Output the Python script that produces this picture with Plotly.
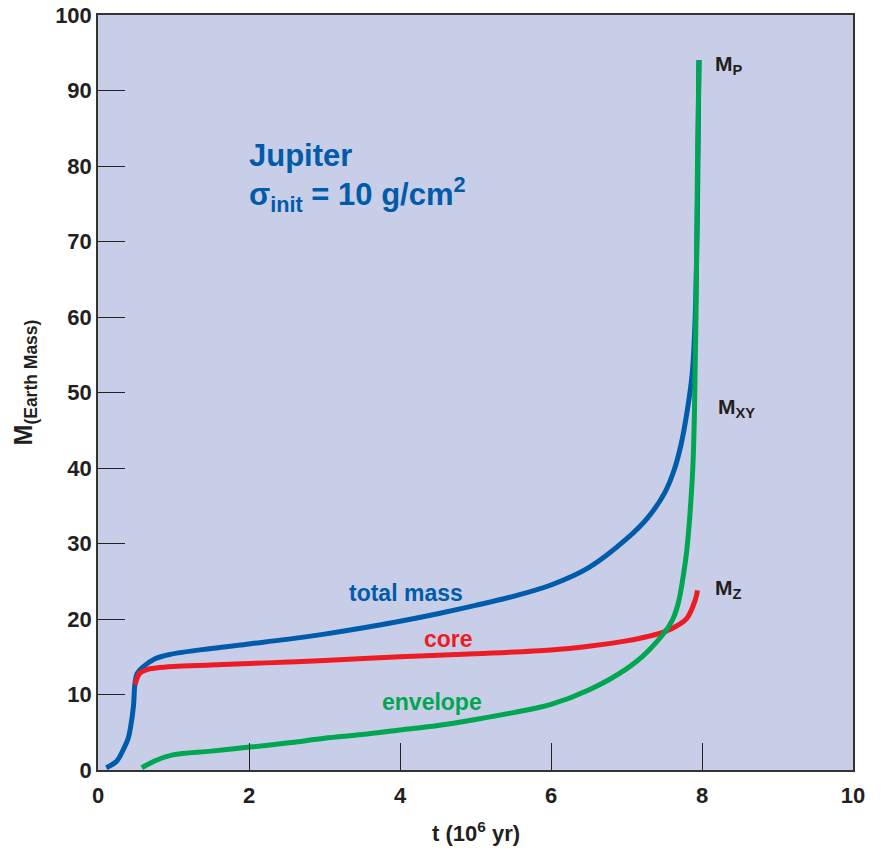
import plotly.graph_objects as go

# ---- data ----
t_total = [0.11, 0.25, 0.33, 0.40, 0.44, 0.47, 0.49, 0.52, 0.59, 0.75, 0.95, 1.5, 2.0, 2.5,
           3.0, 3.5, 4.0, 4.5, 5.0, 5.5, 6.0, 6.5, 7.0, 7.28, 7.5, 7.63, 7.72, 7.80, 7.87,
           7.91, 7.94, 7.96]
m_total = [0.3, 1.2, 2.6, 4.2, 6.2, 8.5, 11.5, 12.8, 13.6, 14.7, 15.3, 16.1, 16.7, 17.3,
           18.0, 18.8, 19.7, 20.7, 21.8, 23.0, 24.5, 26.8, 30.6, 33.4, 36.6, 39.7, 43.0, 47.3,
           52.5, 60.0, 75.0, 94.0]

t_core = [0.49, 0.52, 0.55, 0.65, 0.77, 1.0, 1.5, 2.0, 2.53, 3.0, 4.0, 5.0, 6.0, 6.5, 7.0,
          7.5, 7.7, 7.8, 7.91, 7.94]
m_core = [11.3, 12.2, 12.8, 13.3, 13.5, 13.7, 13.9, 14.1, 14.3, 14.5, 15.0, 15.4, 15.9, 16.4,
          17.1, 18.3, 19.3, 20.1, 22.5, 23.8]

t_env = [0.58, 0.75, 0.99, 1.5, 1.98, 2.53, 3.0, 3.5, 4.0, 4.5, 5.0, 5.5, 6.0, 6.5, 7.0, 7.3,
         7.61, 7.77, 7.87, 7.90, 7.92, 7.94, 7.96]
m_env = [0.3, 1.2, 2.0, 2.5, 3.0, 3.6, 4.2, 4.7, 5.3, 5.9, 6.7, 7.6, 8.7, 10.6, 13.4, 15.9,
         19.9, 26.9, 38.4, 47.3, 60.0, 80.0, 94.0]

x_ticks = [0, 2, 4, 6, 8, 10]
y_ticks = [0, 10, 20, 30, 40, 50, 60, 70, 80, 90, 100]

BLUE = "#005BAA"
RED = "#ED1C24"
GREEN = "#00A651"
FONT = "Liberation Sans, Arial, sans-serif"

fig = go.Figure()
fig.add_trace(go.Scatter(x=t_total, y=m_total, mode="lines",
                         line=dict(color=BLUE, width=5, shape="spline", smoothing=1.0),
                         name="total mass"))
fig.add_trace(go.Scatter(x=t_core, y=m_core, mode="lines",
                         line=dict(color=RED, width=5, shape="spline", smoothing=1.0),
                         name="core"))
fig.add_trace(go.Scatter(x=t_env, y=m_env, mode="lines",
                         line=dict(color=GREEN, width=5, shape="spline", smoothing=1.0),
                         name="envelope"))

tickfont = dict(family=FONT, size=22, color="#231F20", weight="bold")

fig.update_xaxes(range=[0, 10], tickvals=x_ticks, ticks="inside", ticklen=27, tickwidth=1.3,
                 tickcolor="#222", showline=True, linecolor="#333", linewidth=1.5, mirror=True,
                 showgrid=False, zeroline=False, tickfont=tickfont, automargin=False,
                 ticklabelstandoff=5, ticklabeloverflow="allow")
fig.update_yaxes(range=[0, 100], tickvals=y_ticks, ticks="inside", ticklen=27, tickwidth=1.3,
                 tickcolor="#222", showline=True, linecolor="#333", linewidth=1.5, mirror=True,
                 showgrid=False, zeroline=False, tickfont=tickfont, automargin=False,
                 ticklabeloverflow="allow")

ann = []
def add(text, x, y, color, size, xref="x", yref="y", xanchor="left", angle=0):
    ann.append(dict(text=text, x=x, y=y, xref=xref, yref=yref, showarrow=False,
                    xanchor=xanchor, yanchor="middle", textangle=angle,
                    font=dict(family=FONT, size=size, color=color, weight="bold")))

add("Jupiter", 1.97, 81.4, BLUE, 31)
add("σ<sub>init</sub> = 10 g/cm<sup>2</sup>", 1.97, 76.2, BLUE, 31)
add("total mass", 4.08, 23.4, BLUE, 23, xanchor="center")
add("core", 4.64, 17.3, RED, 23, xanchor="center")
add("envelope", 4.43, 9.0, GREEN, 23, xanchor="center")
add("M<sub>P</sub>", 8.14, 93.4, "#231F20", 21)
add("M<sub>XY</sub>", 8.19, 47.9, "#231F20", 21)
add("M<sub>Z</sub>", 8.14, 24.0, "#231F20", 21)
add("t (10<sup>6</sup> yr)", 0.5, -0.082, "#231F20", 22, xref="paper", yref="paper",
    xanchor="center")
add("M<sub>(Earth Mass)</sub>", -0.097, 0.513, "#231F20", 25, xref="paper", yref="paper",
    xanchor="center", angle=-90)

# page body adds an 8px offset; margins compensate so the plot area lands at 98..853 x 15..770
fig.update_layout(width=882, height=850, margin=dict(l=90, r=37, t=7, b=88),
                  plot_bgcolor="#C8CEE7", paper_bgcolor="white", showlegend=False,
                  annotations=ann, font=dict(family=FONT))

fig.write_html("out.html")
